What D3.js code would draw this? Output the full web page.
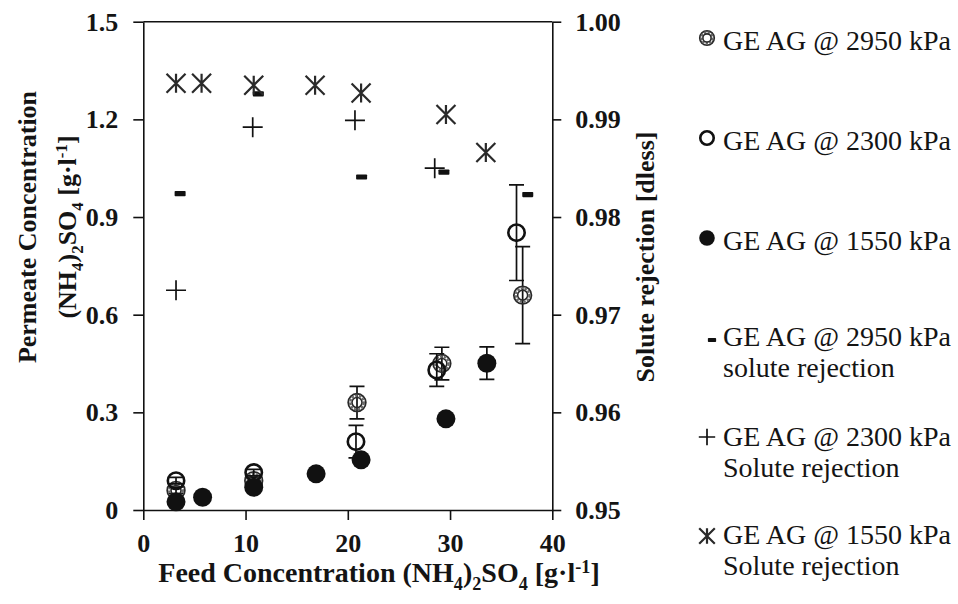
<!DOCTYPE html>
<html>
<head>
<meta charset="utf-8">
<script src="https://cdn.jsdelivr.net/npm/d3@7"></script>
<style>
  html, body { margin: 0; padding: 0; background: #fff; }
  svg { display: block; }
  text { font-family: "Liberation Serif", "Times New Roman", serif; fill: #141414; }
</style>
</head>
<body>
<svg id="chart" width="958" height="604"></svg>
<script>
// Permeate concentration (left axis) for three feed pressures
const feed2950 = [3.2, 10.8, 20.9, 29.2, 37.1];
const perm2950 = [0.06, 0.09, 0.33, 0.45, 0.66];
const err2950  = [0.01, 0.01, 0.05, 0.05, 0.149];

const feed2300 = [3.2, 10.8, 20.8, 28.7, 36.5];
const perm2300 = [0.09, 0.115, 0.21, 0.43, 0.852];
const err2300  = [0.01, 0.01, 0.05, 0.05, 0.147];

const feed1550 = [3.2, 5.8, 10.8, 16.9, 21.3, 29.6, 33.6];
const perm1550 = [0.025, 0.039, 0.07, 0.111, 0.154, 0.28, 0.451];
const err1550  = [0.01, 0.01, 0.01, 0.01, 0.01, 0.01, 0.05];

// Solute rejection (right axis)
const rejFeed2950 = [3.6, 11.25, 21.35, 29.4, 37.6];
const rej2950     = [0.9824, 0.9926, 0.9841, 0.9846, 0.9823];
const rejFeed2300 = [3.2, 10.7, 20.7, 28.5];
const rej2300     = [0.9725, 0.9892, 0.9899, 0.9850];
const rejFeed1550 = [3.2, 5.7, 10.8, 16.8, 21.3, 29.6, 33.5];
const rej1550     = [0.9937, 0.9937, 0.9935, 0.9935, 0.9927, 0.9905, 0.9866];

// Axis ticks
const xTicks = [0, 10, 20, 30, 40];
const yLeftTicks = [0, 0.3, 0.6, 0.9, 1.2, 1.5];
const yLeftLabels = ["0", "0.3", "0.6", "0.9", "1.2", "1.5"];
const yRightTicks = [0.95, 0.96, 0.97, 0.98, 0.99, 1.00];
const yRightLabels = ["0.95", "0.96", "0.97", "0.98", "0.99", "1.00"];

// Legend entries: marker, first line, second line
const legendMarkers = ["ring2", "ring", "dot", "dash", "plus", "star"];
const legendLine1 = ["GE AG @ 2950 kPa", "GE AG @ 2300 kPa", "GE AG @ 1550 kPa",
                     "GE AG @ 2950 kPa", "GE AG @ 2300 kPa", "GE AG @ 1550 kPa"];
const legendLine2 = ["", "", "", "solute rejection", "Solute rejection", "Solute rejection"];

const svg = d3.select("#chart");
const ink = "#111";

const x = d3.scaleLinear().domain([0, 40]).range([143.3, 552.3]);
const yL = d3.scaleLinear().domain([0, 1.5]).range([510, 21.7]);
const yR = d3.scaleLinear().domain([0.95, 1.0]).range([510, 21.7]);

// ---- axes ----
function styleAxis(g, fontSize) {
  g.selectAll("path.domain").attr("stroke", ink).attr("stroke-width", 1.6);
  g.selectAll(".tick line").attr("stroke", ink).attr("stroke-width", 1.6);
  g.selectAll(".tick text")
    .attr("font-family", "Liberation Serif, serif")
    .attr("font-weight", "bold")
    .attr("font-size", fontSize)
    .attr("fill", "#141414");
  g.attr("font-family", null).attr("font-size", null);
}

const gx = svg.append("g").attr("transform", `translate(0,${yL(0)})`)
  .call(d3.axisBottom(x).tickValues(xTicks).tickSize(10).tickSizeOuter(0).tickPadding(14)
        .tickFormat(d3.format("d")));
styleAxis(gx, 26);

const gyl = svg.append("g").attr("transform", `translate(${x(0)},0)`)
  .call(d3.axisLeft(yL).tickValues(yLeftTicks).tickSize(10).tickSizeOuter(0).tickPadding(15)
        .tickFormat((d, i) => yLeftLabels[i]));
styleAxis(gyl, 26);

const gyr = svg.append("g").attr("transform", `translate(${x(40)},0)`)
  .call(d3.axisRight(yR).tickValues(yRightTicks).tickSize(9).tickSizeOuter(0).tickPadding(14)
        .tickFormat((d, i) => yRightLabels[i]));
styleAxis(gyr, 26);

// top frame line
svg.append("line")
  .attr("x1", x(0)).attr("x2", x(40)).attr("y1", yL(1.5)).attr("y2", yL(1.5))
  .attr("stroke", ink).attr("stroke-width", 1.6);

// ---- text helper for sub/superscripts ----
function richText(textSel, parts, baseSize) {
  let shift = 0;
  parts.forEach(([s, kind]) => {
    const target = kind === "sub" ? baseSize * 0.28 : kind === "sup" ? -baseSize * 0.33 : 0;
    const t = textSel.append("tspan").text(s).attr("dy", target - shift);
    if (kind) t.attr("font-size", baseSize * 0.65);
    shift = target;
  });
}

// x-axis title
const xt = svg.append("text")
  .attr("x", 379).attr("y", 582)
  .attr("text-anchor", "middle").attr("font-weight", "bold").attr("font-size", 28);
richText(xt, [["Feed Concentration (NH", ""], ["4", "sub"], [")", ""], ["2", "sub"],
              ["SO", ""], ["4", "sub"], [" [g·l", ""], ["-1", "sup"], ["]", ""]], 28);

// left axis title (two lines)
const lt = svg.append("g").attr("transform", "translate(36,227) rotate(-90)");
lt.append("text").attr("text-anchor", "middle").attr("font-weight", "bold").attr("font-size", 26)
  .text("Permeate Concentration");
const lt2 = lt.append("text").attr("y", 40).attr("text-anchor", "middle")
  .attr("font-weight", "bold").attr("font-size", 26);
richText(lt2, [["(NH", ""], ["4", "sub"], [")", ""], ["2", "sub"], ["SO", ""], ["4", "sub"],
               [" [g·l", ""], ["-1", "sup"], ["]", ""]], 26);

// right axis title
svg.append("text")
  .attr("transform", "translate(654,257) rotate(-90)")
  .attr("text-anchor", "middle").attr("font-weight", "bold").attr("font-size", 26)
  .text("Solute rejection [dless]");

// ---- marker painters ----
function drawMarker(g, kind, cx, cy, s) {
  if (kind === "ring2") {
    g.append("circle").attr("cx", cx).attr("cy", cy).attr("r", 8.8 * s)
      .attr("fill", "none").attr("stroke", "#2a2a2a").attr("stroke-width", 1.8);
    g.append("circle").attr("cx", cx).attr("cy", cy).attr("r", 6.9 * s)
      .attr("fill", "none").attr("stroke", "#6a6a6a").attr("stroke-width", 2.2)
      .attr("stroke-dasharray", "2.5 1.3");
    g.append("circle").attr("cx", cx).attr("cy", cy).attr("r", 5 * s)
      .attr("fill", "none").attr("stroke", "#2a2a2a").attr("stroke-width", 1.6);
  } else if (kind === "ring") {
    g.append("circle").attr("cx", cx).attr("cy", cy).attr("r", 8.2 * s)
      .attr("fill", "none").attr("stroke", ink).attr("stroke-width", 2.6);
  } else if (kind === "dot") {
    g.append("circle").attr("cx", cx).attr("cy", cy).attr("r", 9.5 * s).attr("fill", ink);
  } else if (kind === "dash") {
    g.append("rect").attr("x", cx - 5.5 * s).attr("y", cy - 2.6 * s)
      .attr("width", 11 * s).attr("height", 5.2 * s).attr("rx", 0.8).attr("fill", ink);
  } else if (kind === "plus") {
    const h = 10 * s;
    g.append("path").attr("d", `M${cx - h},${cy}H${cx + h}M${cx},${cy - h}V${cy + h}`)
      .attr("stroke", ink).attr("stroke-width", 1.7).attr("fill", "none");
  } else if (kind === "star") {
    const h = 9.5 * s;
    g.append("path")
      .attr("d", `M${cx - h},${cy - h}L${cx + h},${cy + h}M${cx - h},${cy + h}L${cx + h},${cy - h}` +
                 `M${cx},${cy - h}V${cy + h}`)
      .attr("stroke", "#2a2a2a").attr("stroke-width", 2.2).attr("fill", "none");
  }
}

function errorBars(g, xs, ys, es) {
  xs.forEach((xv, i) => {
    const e = es[i];
    if (!e) return;
    const px = x(xv), top = yL(ys[i] + e), bot = yL(ys[i] - e), w = 7.5;
    g.append("path")
      .attr("d", `M${px},${top}V${bot}M${px - w},${top}H${px + w}M${px - w},${bot}H${px + w}`)
      .attr("stroke", ink).attr("stroke-width", 1.7).attr("fill", "none");
  });
}

const plot = svg.append("g");

// permeate series with error bars
const permSeries = [
  { xs: feed2950, ys: perm2950, es: err2950, m: "ring2" },
  { xs: feed2300, ys: perm2300, es: err2300, m: "ring" },
  { xs: feed1550, ys: perm1550, es: err1550, m: "dot" }
];
permSeries.forEach(s => {
  const g = plot.append("g");
  errorBars(g, s.xs, s.ys, s.es);
  s.xs.forEach((xv, i) => drawMarker(g, s.m, x(xv), yL(s.ys[i]), 1));
});

// rejection series
const rejSeries = [
  { xs: rejFeed2950, ys: rej2950, m: "dash" },
  { xs: rejFeed2300, ys: rej2300, m: "plus" },
  { xs: rejFeed1550, ys: rej1550, m: "star" }
];
rejSeries.forEach(s => {
  const g = plot.append("g");
  s.xs.forEach((xv, i) => drawMarker(g, s.m, x(xv), yR(s.ys[i]), 1));
});

// ---- legend ----
const legendBase = [50, 150, 250, 346, 446, 544];
const legendMarkerY = [38, 138, 238, 340, 437, 536];
const legendMarkerX = [707, 707, 707, 712, 707, 707];
const lg = svg.append("g");
legendMarkers.forEach((m, i) => {
  const scale = (m === "dash") ? 0.75 : 0.82;
  drawMarker(lg, m, legendMarkerX[i], legendMarkerY[i], scale);
  lg.append("text").attr("x", 723).attr("y", legendBase[i])
    .attr("font-size", 28).text(legendLine1[i]);
  if (legendLine2[i]) {
    lg.append("text").attr("x", 723).attr("y", legendBase[i] + 31)
      .attr("font-size", 28).text(legendLine2[i]);
  }
});
</script>
</body>
</html>
